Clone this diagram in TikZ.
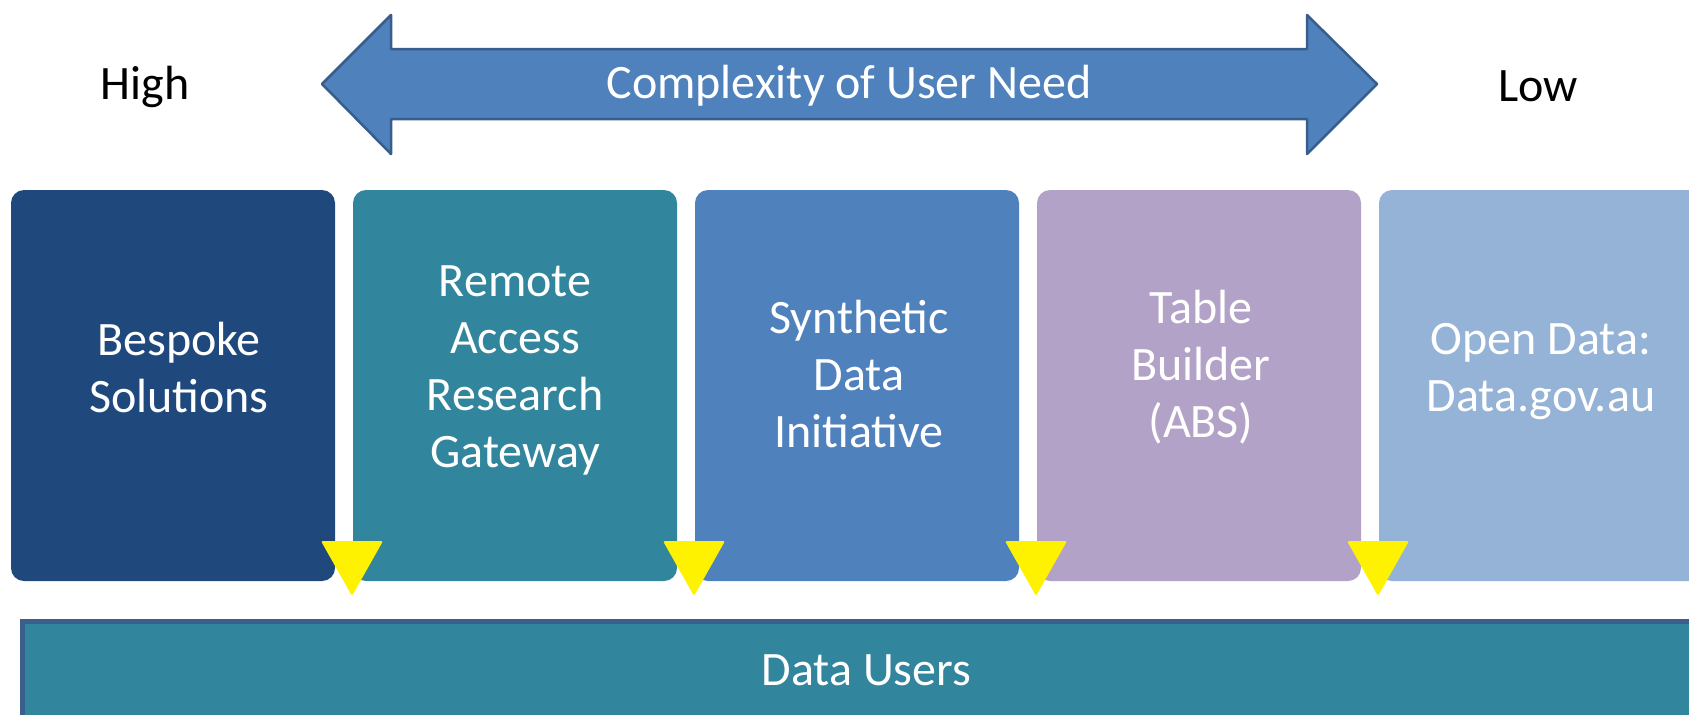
\documentclass[tikz,border=0pt]{standalone}
\usepackage{fontspec}
\setmainfont{Carlito}
\usetikzlibrary{calc}
\usetikzlibrary{positioning}

\definecolor{navytile}{HTML}{1F497D}
\definecolor{tealtile}{HTML}{31859C}
\definecolor{bluetile}{HTML}{4F81BD}
\definecolor{lilactile}{HTML}{B3A2C7}
\definecolor{skytile}{HTML}{95B3D7}
\definecolor{arrowedge}{HTML}{385D8A}
\definecolor{baredge}{HTML}{3A5F8C}

\tikzset{
  tile/.style={rectangle, rounded corners=6.5pt, minimum width=162pt, minimum height=195.5pt, inner sep=0pt, outer sep=0pt},
  tiletext/.style={text=white, align=center, font=\fontsize{24}{28.5}\selectfont},
  endtext/.style={text=black, font=\fontsize{24}{28.5}\selectfont},
  pointer/.style={fill=yellow, rounded corners=1pt},
}

\begin{document}
\begin{tikzpicture}[x=0.5pt, y=-0.5pt]
\useasboundingbox (0, 0) rectangle (1689, 714);
\clip (0, 0) rectangle (1689, 714);

\draw [fill=bluetile, draw=arrowedge, line width=1.25pt, line join=round]
  (322, 84) -- (391, 15) -- (391, 49) -- (1307, 49) -- (1307, 15) -- (1377, 84)
  -- (1307, 154) -- (1307, 119) -- (391, 119) -- (391, 154) -- cycle;
\node (need) [text=white, font=\fontsize{24}{28.5}\selectfont] at (849, 86) {Complexity of User Need};
\node (high) [endtext] at (145, 87) {High};
\node (low) [endtext] at (1538, 86) {Low};

\node (b1) [tile, fill=navytile, anchor=north west] at (11, 190) {};
\node (b2) [tile, fill=tealtile, right=9pt of b1] {};
\node (b3) [tile, fill=bluetile, right=9pt of b2] {};
\node (b4) [tile, fill=lilactile, right=9pt of b3] {};
\node (b5) [tile, fill=skytile, right=9pt of b4] {};

\node (t1) [tiletext] at ($(b1.center)+(6, -18)$) {Bespoke\\Solutions};
\node (t2) [tiletext] at ($(b2.center)+(0, -15)$) {Remote\\Access\\Research\\Gateway};
\node (t3) [tiletext] at ($(b3.center)+(2, -12)$) {Synthetic\\Data\\Initiative};
\node (t4) [tiletext] at ($(b4.center)+(2, -18)$) {Table\\Builder\\(ABS)};
\node (t5) [tiletext] at ($(b5.center)+(0, -14)$) {Open Data:\\Data.gov.au};

\fill [pointer] ($(b2.south west)+(-32, -40)$) -- ++(62, 0) -- ++(-31, 55) -- cycle;
\fill [pointer] ($(b3.south west)+(-32, -40)$) -- ++(62, 0) -- ++(-31, 55) -- cycle;
\fill [pointer] ($(b4.south west)+(-32, -40)$) -- ++(62, 0) -- ++(-31, 55) -- cycle;
\fill [pointer] ($(b5.south west)+(-32, -40)$) -- ++(62, 0) -- ++(-31, 55) -- cycle;

\node (users) [rectangle, fill=tealtile, draw=baredge, line width=2.5pt, inner sep=0pt,
  minimum width=844pt, minimum height=49pt, anchor=north west,
  text=white, font=\fontsize{24}{28.5}\selectfont] at (20, 619) {Data Users};

\end{tikzpicture}
\end{document}
